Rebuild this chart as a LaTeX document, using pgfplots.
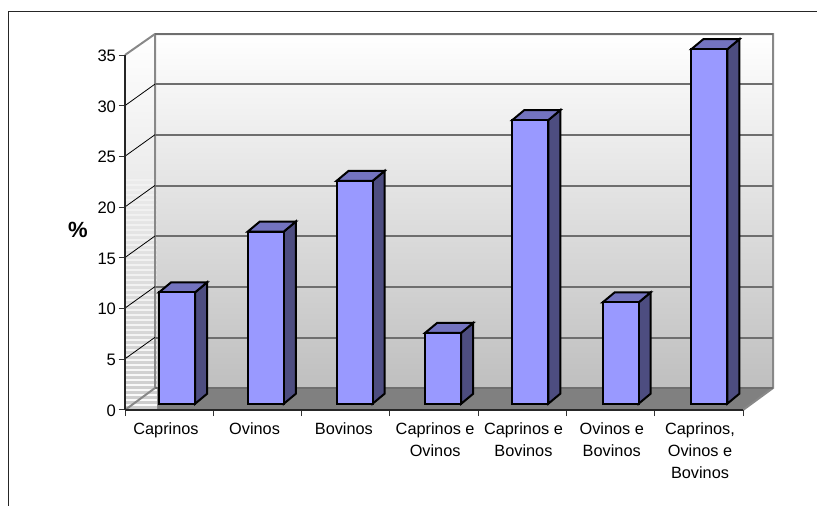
\documentclass[border=0pt]{standalone}
\usepackage{fontspec}
\setmainfont{Liberation Sans}
\usepackage{pgfplots}
\pgfplotsset{compat=1.18}

\definecolor{barfront}{HTML}{9999FF}
\definecolor{barside}{HTML}{4D4D80}
\definecolor{bartop}{HTML}{7373BF}
\definecolor{wallline}{HTML}{888888}
\definecolor{gridc}{HTML}{6E6E6E}
\definecolor{floorc}{HTML}{808080}
\definecolor{wallbottom}{HTML}{BFBFBF}

% Side and top faces of a column: centre in category units, height in percent.
% Depth is 12 px across and 10 px up; the column stands 8 px right, 6 px above the front edge.
\newcommand\columnfaces[2]{%
  \pgfmathsetmacro\xr{#1+0.0906+0.2039}%
  \pgfmathsetmacro\xl{#1+0.0906-0.2039}%
  \pgfmathsetmacro\xrb{\xr+0.136}%
  \pgfmathsetmacro\xlb{\xl+0.136}%
  \pgfmathsetmacro\yb{0.592}%
  \pgfmathsetmacro\yt{#2+0.592}%
  \pgfmathsetmacro\ybb{\yb+0.987}%
  \pgfmathsetmacro\ytb{\yt+0.987}%
  \edef\sideface{\noexpand\addplot[draw=black,line width=2pt,line join=miter,fill=barside]
    coordinates {(\xr,\yb)(\xr,\yt)(\xrb,\ytb)(\xrb,\ybb)} --cycle;}%
  \sideface
  \edef\topface{\noexpand\addplot[draw=black,line width=2pt,line join=miter,fill=bartop]
    coordinates {(\xl,\yt)(\xlb,\ytb)(\xrb,\ytb)(\xr,\yt)} --cycle;}%
  \topface
}

\begin{document}
\begin{tikzpicture}[x=1pt,y=-1pt]
  \path[use as bounding box,fill=white] (0,0) rectangle (817,506);

  % Outer frame, open to the right and the bottom
  \draw[line width=1.5pt,color=black!85] (8.3,506) -- (8.3,11.7) -- (817,11.7);

  % Back wall and floor
  \fill[top color=white,bottom color=wallbottom] (155,34) rectangle (773,388);
  \fill[floorc] (157,388) -- (773,388) -- (743,410) -- (157,410) -- cycle;

  % Side wall with its light banding
  \begin{scope}
    \clip (125,55) -- (155,34) -- (157,34) -- (157,410) -- (125,410) -- cycle;
    \fill[top color=white,bottom color=black!20] (125,34) rectangle (157,410);
    \foreach \s in {0,...,45}
      \draw[white,opacity=0.35+0.013*\s,line width=1.3pt] (125,180+5*\s) -- (157,180+5*\s);
  \end{scope}

  % Edges of the wall box
  \draw[wallline,line width=2pt] (125,55) -- (155,34) -- (773,34) -- (773,388) -- (743,410);
  \draw[wallline,line width=2pt] (155,34) -- (155,388) -- (125,410);

  % Tick guides running back along the side wall
  \foreach \py in {105.6,156.2,206.9,257.5,308.1,358.8}
    \draw[black,line width=0.8pt] (125,\py) -- (155,\py-21.5);

  \begin{axis}[
    at={(125pt,-409.7pt)},
    anchor=south west,
    scale only axis,
    width=618pt,
    height=354.5pt,
    x=88.2857pt,
    y=10.1286pt,
    xmin=0, xmax=7,
    ymin=0, ymax=35,
    clip=false,
    axis lines=left,
    axis line style={-},
    x axis line style={line width=2.2pt,color=black!85},
    y axis line style={line width=1.2pt,color=black!85},
    tick align=outside,
    major tick length=6.5pt,
    tick style={black!80,line width=0.9pt},
    xtick={0,1,2,3,4,5,6,7},
    xticklabels={\hspace*{-8.6pt}Caprinos,\hspace*{-8pt}Ovinos,\hspace*{-6pt}Bovinos,
      {Caprinos e\\Ovinos},{Caprinos e\\Bovinos},{Ovinos e\\Bovinos},{Caprinos,\\Ovinos e\\Bovinos},{}},
    xticklabel style={xshift=45.3pt,align=center,anchor=north,yshift=-3pt,
      font=\fontsize{16.3}{22}\selectfont},
    ytick={0,5,10,15,20,25,30,35},
    yticklabel style={font=\fontsize{16.6}{20}\selectfont,xshift=1pt,yshift=-0.6pt},
    /pgf/number format/assume math mode=true,
    ymajorgrids=true,
    grid style={draw=gridc,line width=2pt,xshift=30pt,yshift=21.5pt},
    ylabel={\textbf{\%}},
    ylabel style={rotate=-90,font=\fontsize{22}{24}\selectfont,
      at={(axis description cs:-0.076,0.508)},anchor=center},
  ]
    % Side and top faces, drawn behind the front faces
    \columnfaces{0.5}{11}
    \columnfaces{1.505}{17}
    \columnfaces{2.51}{22}
    \columnfaces{3.514}{7}
    \columnfaces{4.5}{28}
    \columnfaces{5.523}{10}
    \columnfaces{6.528}{35}

    % Front faces carry the values
    \addplot[ybar,bar width=36pt,bar shift=0pt,xshift=8pt,yshift=6pt,
      draw=black,line width=2pt,fill=barfront]
      coordinates {(0.5,11)(1.505,17)(2.51,22)(3.514,7)(4.5,28)(5.523,10)(6.528,35)};
  \end{axis}
\end{tikzpicture}
\end{document}
